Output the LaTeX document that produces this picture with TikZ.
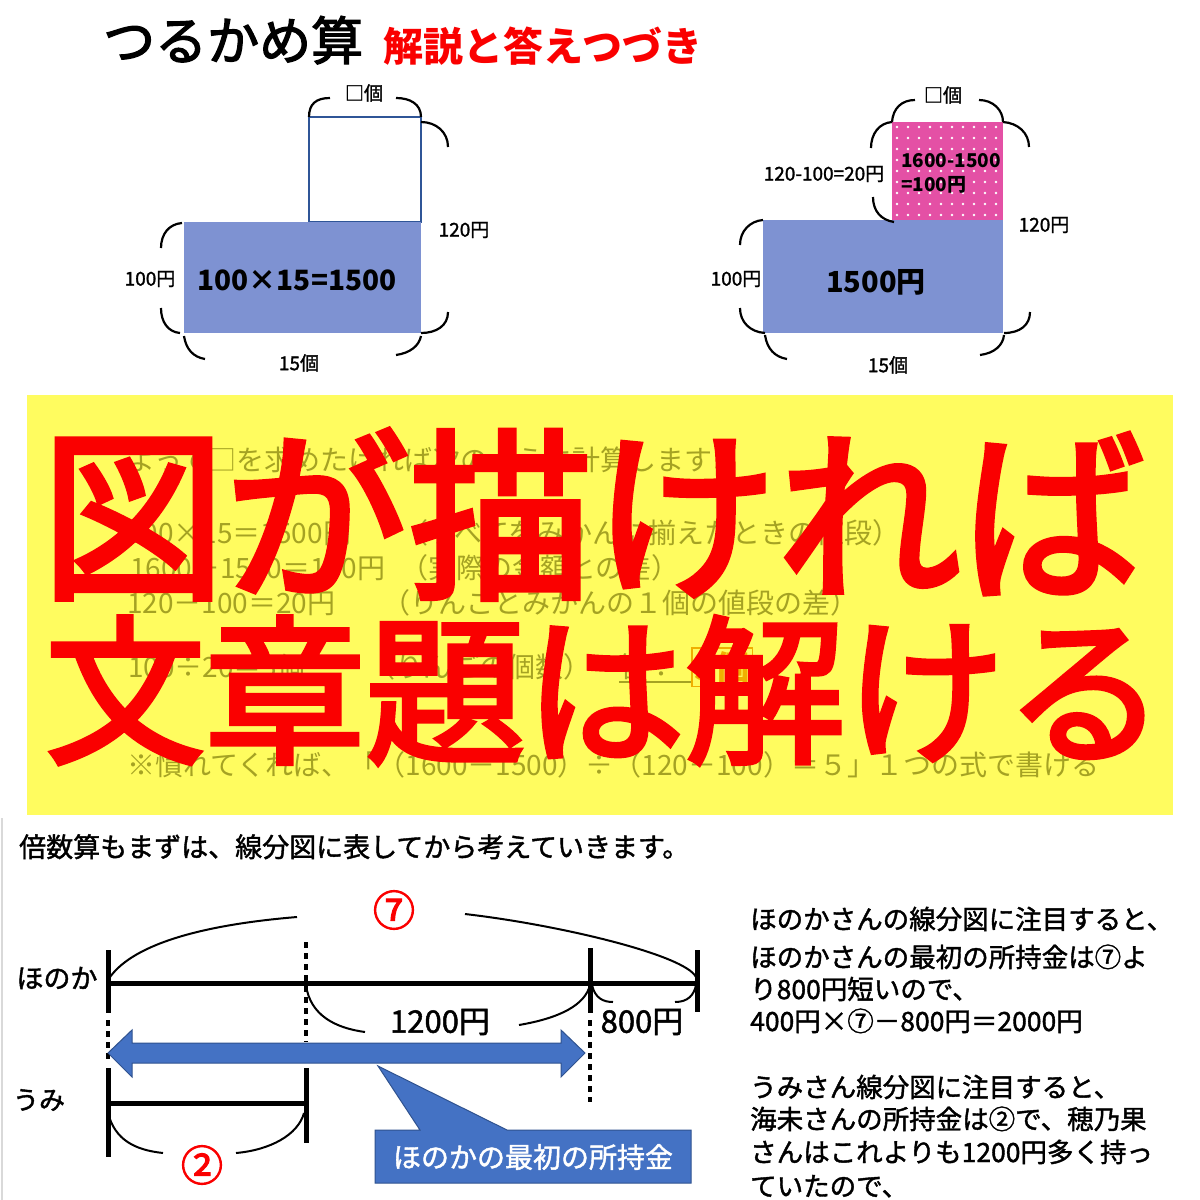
\documentclass[tikz,border=0pt]{standalone}
\usepackage{fontspec}
\newfontfamily\jp{Noto Sans CJK JP}
\newfontfamily\jpm{Noto Sans CJK JP}[FakeBold=1.5]
\newfontfamily\jpt{Noto Sans CJK JP}[FakeBold=2.5]
\newfontfamily\jpbig{Noto Sans CJK JP}[FakeBold=3]
\newcommand\jpsize[1]{\fontsize{#1}{#1}\selectfont}
\definecolor{redT}{RGB}{250,0,0}
\definecolor{yel}{RGB}{255,252,95}
\definecolor{oliveT}{RGB}{165,162,35}
\definecolor{blueF}{RGB}{126,146,210}
\definecolor{blueE}{RGB}{47,85,151}
\definecolor{pinkF}{RGB}{228,80,165}
\definecolor{arrowB}{RGB}{68,114,196}
\definecolor{arrowE}{RGB}{47,82,143}
\definecolor{orng}{RGB}{240,175,0}
\tikzset{
  dlabel/.style={font=\jpm\jpsize{19}, inner sep=0pt},
  bigcalc/.style={font=\jp\bfseries\jpsize{29}, inner sep=0pt},
  brace/.style={line width=2.2pt, black},
  faded/.style={font=\jp\jpsize{28}, text=oliveT, inner sep=0pt, anchor=base west},
  bigred/.style={text=redT, inner sep=0pt, anchor=base west},
  body/.style={font=\jpm\jpsize{26.5}, inner sep=0pt, anchor=base west},
  segline/.style={line width=5pt},
  dotline/.style={line width=4pt, dash pattern=on 6pt off 5pt},
  arcline/.style={line width=2pt},
  circnum/.style={font=\jpt\jpsize{42}, text=redT, inner sep=0pt}
}
\begin{document}
\begin{tikzpicture}[x=1pt,y=-1pt]
\fill[white] (0,0) rectangle (1200,1200);
\useasboundingbox (0,0) rectangle (1200,1200);

% title
\node[anchor=base west, font=\jpt\jpsize{52}, inner sep=0pt] (title) at (103,60) {つるかめ算};
\node[anchor=base west, font=\jp\bfseries\jpsize{40}, text=redT, inner sep=0pt] (sub) at (383,61) {解説と答えつづき};

% ---- left diagram
\draw[blueE, line width=1.5pt, fill=white] (309,117) rectangle (421,222);
\fill[blueF] (184,222) rectangle (421,333);
\node[dlabel] (la) at (364,93) {□個};
\node[dlabel] (lb) at (150,279) {100円};
\node[dlabel] (lc) at (464,230) {120円};
\node[dlabel] (ld) at (299,363) {15個};
\node[bigcalc, font=\jp\bfseries\jpsize{28}] (le) at (297,280) {100×15=1500};
\draw[brace] (309,117) .. controls (309,104) and (316,98) .. (330,98);
\draw[brace] (396,98) .. controls (410,98) and (421,104) .. (421,117);
\draw[brace] (421,122) .. controls (436,122) and (448,132) .. (448,147);
\draw[brace] (448,312) .. controls (448,326) and (436,333) .. (421,333);
\draw[brace] (182,223) .. controls (169,224) and (161,234) .. (161,248);
\draw[brace] (161,308) .. controls (161,322) and (168,332) .. (180,333);
\draw[brace] (184,336) .. controls (186,349) and (193,357) .. (205,359);
\draw[brace] (396,355) .. controls (410,353) and (419,346) .. (421,336);

% ---- right diagram
\fill[pinkF] (892,122) rectangle (1003,220);
\foreach \xx in {897,908,...,1000} {
  \foreach \yy in {127,138,...,218} {
    \fill[white] (\xx,\yy) circle (1.3);
  }
}
\fill[blueF] (763,220) rectangle (1003,333);
\node[dlabel] (ra) at (943,95) {□個};
\node[dlabel] (rb) at (1044,225) {120円};
\node[dlabel] (rc) at (824,174) {120-100=20円};
\node[dlabel, anchor=west, font=\jp\bfseries\jpsize{19}] (rd) at (901,161) {1600-1500};
\node[dlabel, anchor=west, font=\jp\bfseries\jpsize{19}] (re) at (901,185) {=100円};
\node[dlabel] (rf) at (736,279) {100円};
\node[dlabel] (rg) at (888,365) {15個};
\node[bigcalc] (rh) at (876,282) {1500円};
\draw[brace] (892,122) .. controls (893,108) and (902,100) .. (915,100);
\draw[brace] (979,100) .. controls (993,100) and (1003,110) .. (1003,122);
\draw[brace] (1003,122) .. controls (1018,123) and (1029,133) .. (1029,147);
\draw[brace] (892,122) .. controls (879,123) and (871,134) .. (871,148);
\draw[brace] (873,197) .. controls (873,211) and (881,220) .. (894,222);
\draw[brace] (763,220) .. controls (750,221) and (740,231) .. (740,245);
\draw[brace] (740,308) .. controls (740,322) and (750,332) .. (765,333);
\draw[brace] (765,335) .. controls (767,349) and (775,357) .. (787,359);
\draw[brace] (980,355) .. controls (995,353) and (1003,345) .. (1004,335);
\draw[brace] (1030,312) .. controls (1030,325) and (1020,333) .. (1004,333);

% ---- yellow banner
\fill[yel] (27,395) rectangle (1173,815);
\node[faded] (f1) at (127,470) {よって□を求めたければ次のように計算します．};
\node[faded] (f2a) at (127,543) {100×15＝1500円};
\node[faded] (f2b) at (400,543) {（すべてをみかんに揃えたときの値段）};
\node[faded] (f3a) at (130,578) {1600－1500＝100円};
\node[faded] (f3b) at (400,578) {（実際の金額との差）};
\node[faded] (f4a) at (127,613) {120－100＝20円};
\node[faded] (f4b) at (382,613) {（りんごとみかんの１個の値段の差）};
\node[faded] (f5a) at (128,677) {100÷20＝5個};
\node[faded] (f5b) at (367,677) {（りんごの個数）};
\node[faded] (f5c) at (619,677) {答：};
\draw[oliveT, line width=1.5pt] (f5c.base west) ++(0,5) -- ++(72,0);
\node[faded, text=orng, font=\jp\bfseries\jpsize{34}, draw=orng, line width=1.5pt, inner sep=3pt] (f5d) at (691,680) {5個};
\node[faded] (f6) at (127,775) {※慣れてくれば、「（1600－1500）÷（120－100）＝５」１つの式で書ける};
\node[bigred, font=\jpbig\jpsize{184}] (big1) at (41,585) {図が描ければ};
\node[bigred, font=\jpbig\jpsize{160}] (big2) at (45,751) {文章題は解ける};

% ---- bottom section
\draw[black!15, line width=2pt] (2,818) -- (2,1200);
\node[body, font=\jpm\jpsize{27}] (hdr) at (19,857) {倍数算もまずは、線分図に表してから考えていきます。};

\coordinate (h0) at (108,983);
\coordinate (h1) at (697,983);
\draw[segline] (h0) -- (h1);
\draw[segline] (108,950) -- (108,1013);
\draw[dotline] (108,1020) -- (108,1062);
\draw[segline] (108,1068) -- (108,1157);
\draw[segline] (108,1103) -- (306,1103);
\draw[segline] (306,1068) -- (306,1143);
\draw[dotline] (306,942) -- (306,1042);
\draw[segline] (590,948) -- (590,1013);
\draw[dotline] (590,1020) -- (590,1102);
\draw[segline] (697,950) -- (697,1012);

\draw[arcline] (108,980) .. controls (130,945) and (200,925) .. (297,917);
\draw[arcline] (465,914) .. controls (560,925) and (685,955) .. (696,977);
\draw[arcline] (306,985) .. controls (310,1015) and (335,1028) .. (365,1032);
\draw[arcline] (519,1025) .. controls (560,1018) and (585,1005) .. (590,985);
\draw[arcline] (592,985) .. controls (595,998) and (603,1002) .. (613,1002);
\draw[arcline] (675,1002) .. controls (688,1002) and (694,995) .. (696,985);
\draw[arcline] (108,1113) .. controls (115,1140) and (135,1150) .. (163,1153);
\draw[arcline] (236,1153) .. controls (270,1150) and (298,1135) .. (304,1113);

\node[circnum] (n7) at (394,910) {⑦};
\node[circnum] (n2) at (202,1165) {②};
\node[font=\jpm\jpsize{27}, inner sep=0pt] (hon) at (57,978) {ほのか};
\node[font=\jpm\jpsize{26}, inner sep=0pt] (umi) at (39,1100) {うみ};
\node[font=\jpm\jpsize{31}, inner sep=0pt] (y1200) at (440,1022) {1200円};
\node[font=\jpm\jpsize{31}, inner sep=0pt] (y800) at (642,1022) {800円};

% blue double arrow
\filldraw[fill=arrowB, draw=arrowE, line width=1pt]
  (108,1053) -- (132,1030) -- (132,1043) -- (561,1043) -- (561,1030) -- (585,1053)
  -- (561,1077) -- (561,1063) -- (132,1063) -- (132,1077) -- cycle;
% callout
\filldraw[fill=arrowB, draw=arrowE, line width=1pt]
  (375,1130) -- (420,1130) -- (378,1066) -- (507,1130) -- (691,1130)
  -- (691,1183) -- (375,1183) -- cycle;
\node[font=\jpm\jpsize{28}, text=white, inner sep=0pt] (call) at (533,1157) {ほのかの最初の所持金};

% right text block
\node[body] (t1) at (750,929) {ほのかさんの線分図に注目すると、};
\node[body] (t2) at (750,967) {ほのかさんの最初の所持金は⑦よ};
\node[body] (t3) at (750,999) {り800円短いので、};
\node[body] (t4) at (750,1031) {400円×⑦－800円＝2000円};
\node[body] (t5) at (750,1097) {うみさん線分図に注目すると、};
\node[body] (t6) at (750,1129) {海未さんの所持金は②で、穂乃果};
\node[body] (t7) at (750,1162) {さんはこれよりも1200円多く持っ};
\node[body] (t8) at (750,1196) {ていたので、};
\end{tikzpicture}
\end{document}
